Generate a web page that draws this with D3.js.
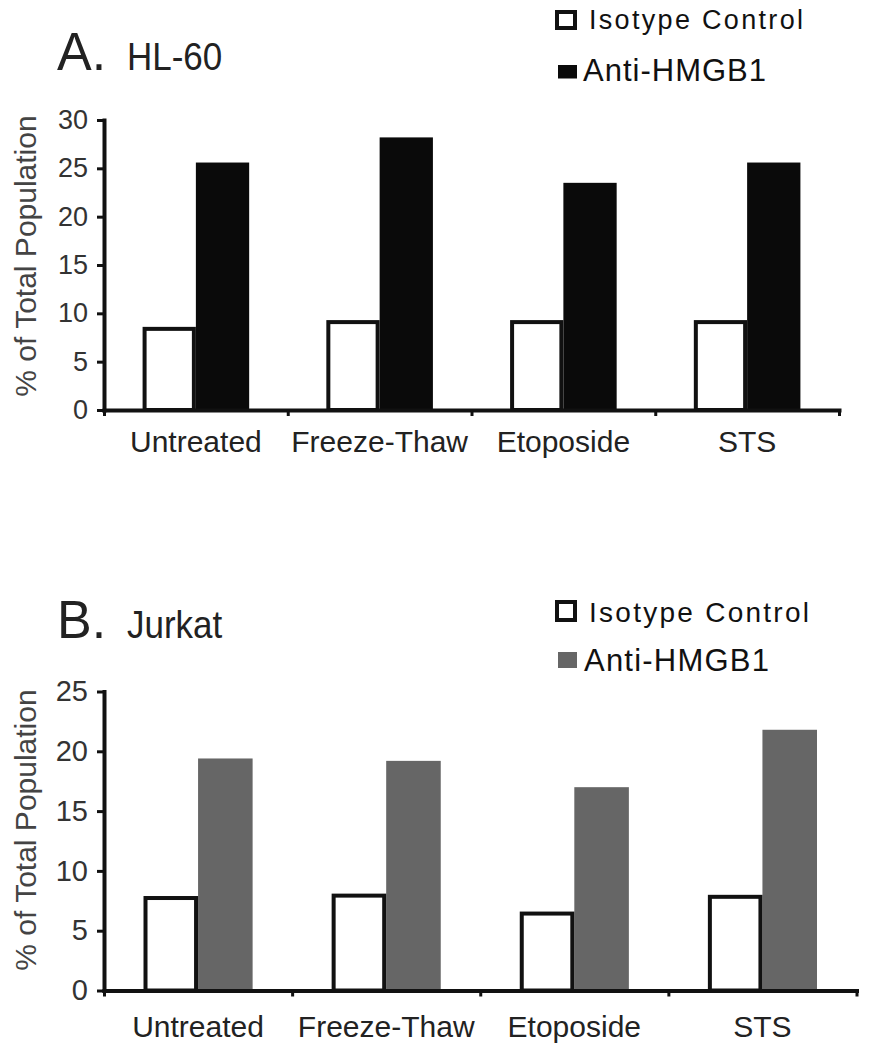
<!DOCTYPE html>
<html><head><meta charset="utf-8">
<script src="https://cdn.jsdelivr.net/npm/d3@7"></script>
<style>body{margin:0;background:#fff}svg{display:block}</style>
</head><body><svg id="c" width="879" height="1050"></svg>
<script>
const categories = ["Untreated", "Freeze-Thaw", "Etoposide", "STS"];
const seriesNames = ["Isotype Control", "Anti-HMGB1"];
const hl60Isotype = [8.6, 9.3, 9.3, 9.3];
const hl60Anti = [25.6, 28.2, 23.5, 25.6];
const jurkatIsotype = [7.9, 8.1, 6.6, 8.0];
const jurkatAnti = [19.4, 19.2, 17.0, 21.8];
const yTicksHL60 = [0, 5, 10, 15, 20, 25, 30];
const yTicksJurkat = [0, 5, 10, 15, 20, 25];
const yTitle = "% of Total Population";

const FONT = '"Liberation Sans", Arial, Helvetica, sans-serif';
const svg = d3.select("#c");
svg.append("rect").attr("width", 879).attr("height", 1050).attr("fill", "#fff");

function txt(g, x, y, str, size, sy, fill, extra) {
  const t = g.append("text")
    .attr("transform", `translate(${x},${y}) scale(1,${sy})` + (extra || ""))
    .attr("font-family", FONT).attr("font-size", size).attr("fill", fill).text(str);
  return t;
}

function panel(o) {
  const g = svg.append("g");
  const y = d3.scaleLinear().domain([0, d3.max(o.ticks)]).range([o.y0, o.y1]);
  const x = d3.scaleBand().domain(categories).range([o.x0, o.x1]).padding(0);
  const bw = x.bandwidth(), pair = bw * 0.58;
  const xs = d3.scaleBand().domain(seriesNames).range([(bw - pair) / 2, (bw + pair) / 2]);
  const rows = categories.map((c, i) => ({ c, iso: o.iso[i], anti: o.anti[i] }));

  // Anti-HMGB1 bars
  g.append("g").selectAll("rect").data(rows).join("rect")
    .attr("x", d => x(d.c) + xs(seriesNames[1]))
    .attr("width", xs.bandwidth())
    .attr("y", d => y(d.anti))
    .attr("height", d => y(0) - y(d.anti))
    .attr("fill", o.color);
  // Isotype control bars
  g.append("g").selectAll("rect").data(rows).join("rect")
    .attr("x", d => x(d.c) + xs(seriesNames[0]) + 2)
    .attr("width", xs.bandwidth() - 4)
    .attr("y", d => y(d.iso) + 2)
    .attr("height", d => y(0) - y(d.iso) - 2)
    .attr("fill", "#fff").attr("stroke", "#111").attr("stroke-width", 4);

  // Y axis
  const ga = g.append("g").attr("transform", `translate(${o.x0},0)`)
    .call(d3.axisLeft(y).tickValues(o.ticks).tickSize(7).tickPadding(9).tickSizeOuter(0));
  ga.attr("font-family", FONT).attr("font-size", o.tickFont);
  ga.select(".domain").attr("stroke", "#111").attr("stroke-width", 4).attr("stroke-linecap", "square");
  ga.selectAll(".tick line").attr("stroke", "#111").attr("stroke-width", 3);
  ga.selectAll(".tick text").attr("fill", "#333");

  // X axis (boundaries)
  const xb = d3.scaleLinear().domain([0, categories.length]).range([o.x0, o.x1]);
  const gx = g.append("g").attr("transform", `translate(0,${o.y0})`)
    .call(d3.axisBottom(xb).tickValues(d3.range(categories.length + 1)).tickFormat("").tickSize(6).tickSizeOuter(0));
  gx.select(".domain").attr("stroke", "#111").attr("stroke-width", 4).attr("stroke-linecap", "square");
  gx.selectAll(".tick line").attr("stroke", "#111").attr("stroke-width", 3);

  // Category labels
  const gl = g.append("g").attr("transform", `translate(0,${o.y0})`)
    .call(d3.axisBottom(x).tickSize(0).tickPadding(o.labPad));
  gl.select(".domain").remove();
  gl.attr("font-family", FONT).attr("font-size", 30);
  gl.selectAll(".tick text").attr("fill", "#222");

  // Y title
  g.append("text")
    .attr("transform", `translate(36,${o.titleYc}) rotate(-90)`)
    .attr("text-anchor", "middle")
    .attr("font-family", FONT).attr("font-size", 30).attr("fill", "#444")
    .text(yTitle);

  // Panel title
  txt(g, 57, o.headY, o.letter, 52, 1.03, "#222");
  txt(g, 127, o.headY, o.cell, 35, 1.09, "#222");

  // Legend
  const leg = g.append("g").selectAll("g").data(seriesNames).join("g");
  leg.each(function (name, i) {
    const s = d3.select(this), L = o.legend[i];
    if (i === 0) {
      s.append("rect").attr("x", 557).attr("y", L.boxY + 2).attr("width", 18).attr("height", L.boxH - 4)
        .attr("fill", "#fff").attr("stroke", "#111").attr("stroke-width", 4);
    } else {
      s.append("rect").attr("x", 558).attr("y", L.boxY).attr("width", 19).attr("height", L.boxH)
        .attr("fill", o.color);
    }
    s.append("text").attr("x", L.tx).attr("y", L.base)
      .attr("font-family", FONT).attr("font-size", L.size).attr("fill", "#111")
      .attr("textLength", L.len).attr("lengthAdjust", "spacing")
      .text(name);
  });
}

panel({
  letter: "A.", cell: "HL-60", iso: hl60Isotype, anti: hl60Anti, color: "#0a0a0a",
  ticks: yTicksHL60, y0: 410, y1: 120, x0: 104, x1: 839, tickFont: 27, labPad: 21,
  titleYc: 256, headY: 70,
  legend: [
    { boxY: 10, boxH: 20, tx: 589, base: 29, size: 27, len: 214 },
    { boxY: 65, boxH: 13.5, tx: 583, base: 80.5, size: 31, len: 183 }
  ]
});
panel({
  letter: "B.", cell: "Jurkat", iso: jurkatIsotype, anti: jurkatAnti, color: "#666666",
  ticks: yTicksJurkat, y0: 990.5, y1: 691.5, x0: 104, x1: 856.5, tickFont: 29, labPad: 25,
  titleYc: 830, headY: 638,
  legend: [
    { boxY: 600, boxH: 22, tx: 589, base: 621.5, size: 28, len: 220 },
    { boxY: 652, boxH: 16, tx: 584, base: 670.5, size: 31, len: 185 }
  ]
});
</script></body></html>
